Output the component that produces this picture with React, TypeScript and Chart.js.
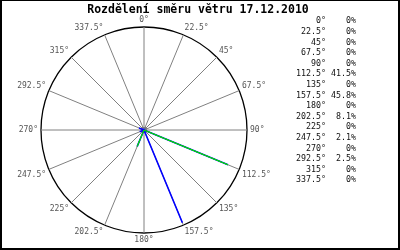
import React, { useEffect, useRef } from "react";
import { Chart, registerables } from "chart.js";

Chart.register(...registerables);

const chartTitle = "Rozdělení směru větru 17.12.2010";
const directions = [
  "0°", "22.5°", "45°", "67.5°", "90°", "112.5°", "135°", "157.5°",
  "180°", "202.5°", "225°", "247.5°", "270°", "292.5°", "315°", "337.5°",
];
const windShare = [0, 0, 0, 0, 0, 41.5, 0, 45.8, 0, 8.1, 0, 2.1, 0, 2.5, 0, 0];
const shareLabels = windShare.map((v) => `${v}%`);
const scaleMax = 47;
const greenSpokes = [5, 9];
const greenShare = windShare.map((v, i) => (greenSpokes.includes(i) ? v : 0));

const MONO = "'DejaVu Sans Mono', monospace";

const framePlugin = {
  id: "frameAndTable",
  afterDraw(chart: any) {
    const ctx = chart.ctx;
    ctx.save();
    ctx.fillStyle = "#000";
    ctx.font = `bold 11.5px ${MONO}`;
    ctx.textAlign = "center";
    ctx.textBaseline = "middle";
    ctx.fillText(chartTitle, 198, 10);
    ctx.font = `8.3px ${MONO}`;
    ctx.fillStyle = "#111";
    directions.forEach((d, i) => {
      const y = 21.3 + i * 10.6;
      ctx.textAlign = "right";
      ctx.fillText(d, 326, y);
      ctx.fillText(shareLabels[i], 356, y);
    });
    ctx.fillStyle = "#000";
    ctx.fillRect(0, 0, 400, 1);
    ctx.fillRect(0, 0, 2, 250);
    ctx.fillRect(398, 0, 2, 250);
    ctx.fillRect(0, 248, 400, 2);
    ctx.restore();
  },
};

export default function App() {
  const ref = useRef<HTMLCanvasElement>(null);
  useEffect(() => {
    document.body.style.margin = "0";
    const chart = new Chart(ref.current!, {
      type: "radar",
      data: {
        labels: directions,
        datasets: [
          {
            data: greenShare,
            borderColor: "#00e000",
            borderWidth: 1,
            fill: false,
            tension: 0,
            pointRadius: 0,
          },
          {
            data: windShare,
            borderColor: "#0000ff",
            borderWidth: 1.6,
            fill: false,
            tension: 0,
            pointRadius: 0,
          },
          {
            data: windShare.map(() => 0),
            borderColor: "rgba(0,0,0,0)",
            fill: false,
            pointRadius: 3,
            pointBackgroundColor: "#808080",
            pointBorderColor: "#808080",
            pointBorderWidth: 0,
          },
        ],
      },
      options: {
        responsive: false,
        animation: false,
        devicePixelRatio: 1,
        layout: { padding: { top: 16, bottom: 5, left: 4, right: 115 } },
        plugins: {
          legend: { display: false },
          title: { display: false },
          tooltip: { enabled: false },
        },
        scales: {
          r: {
            min: 0,
            max: scaleMax,
            ticks: { display: false, stepSize: scaleMax },
            grid: { circular: true, color: "#000", lineWidth: 1.3 },
            angleLines: { color: "#808080", lineWidth: 1 },
            pointLabels: {
              font: { family: MONO, size: 8, lineHeight: 1 },
              color: "#555",
              padding: 3,
            },
          },
        },
      },
      plugins: [framePlugin],
    } as any);
    return () => chart.destroy();
  }, []);
  return (
    <div style={{ position: "absolute", left: 0, top: 0, width: 400, height: 250, background: "#fff" }}>
      <canvas ref={ref} width={400} height={250} />
    </div>
  );
}
